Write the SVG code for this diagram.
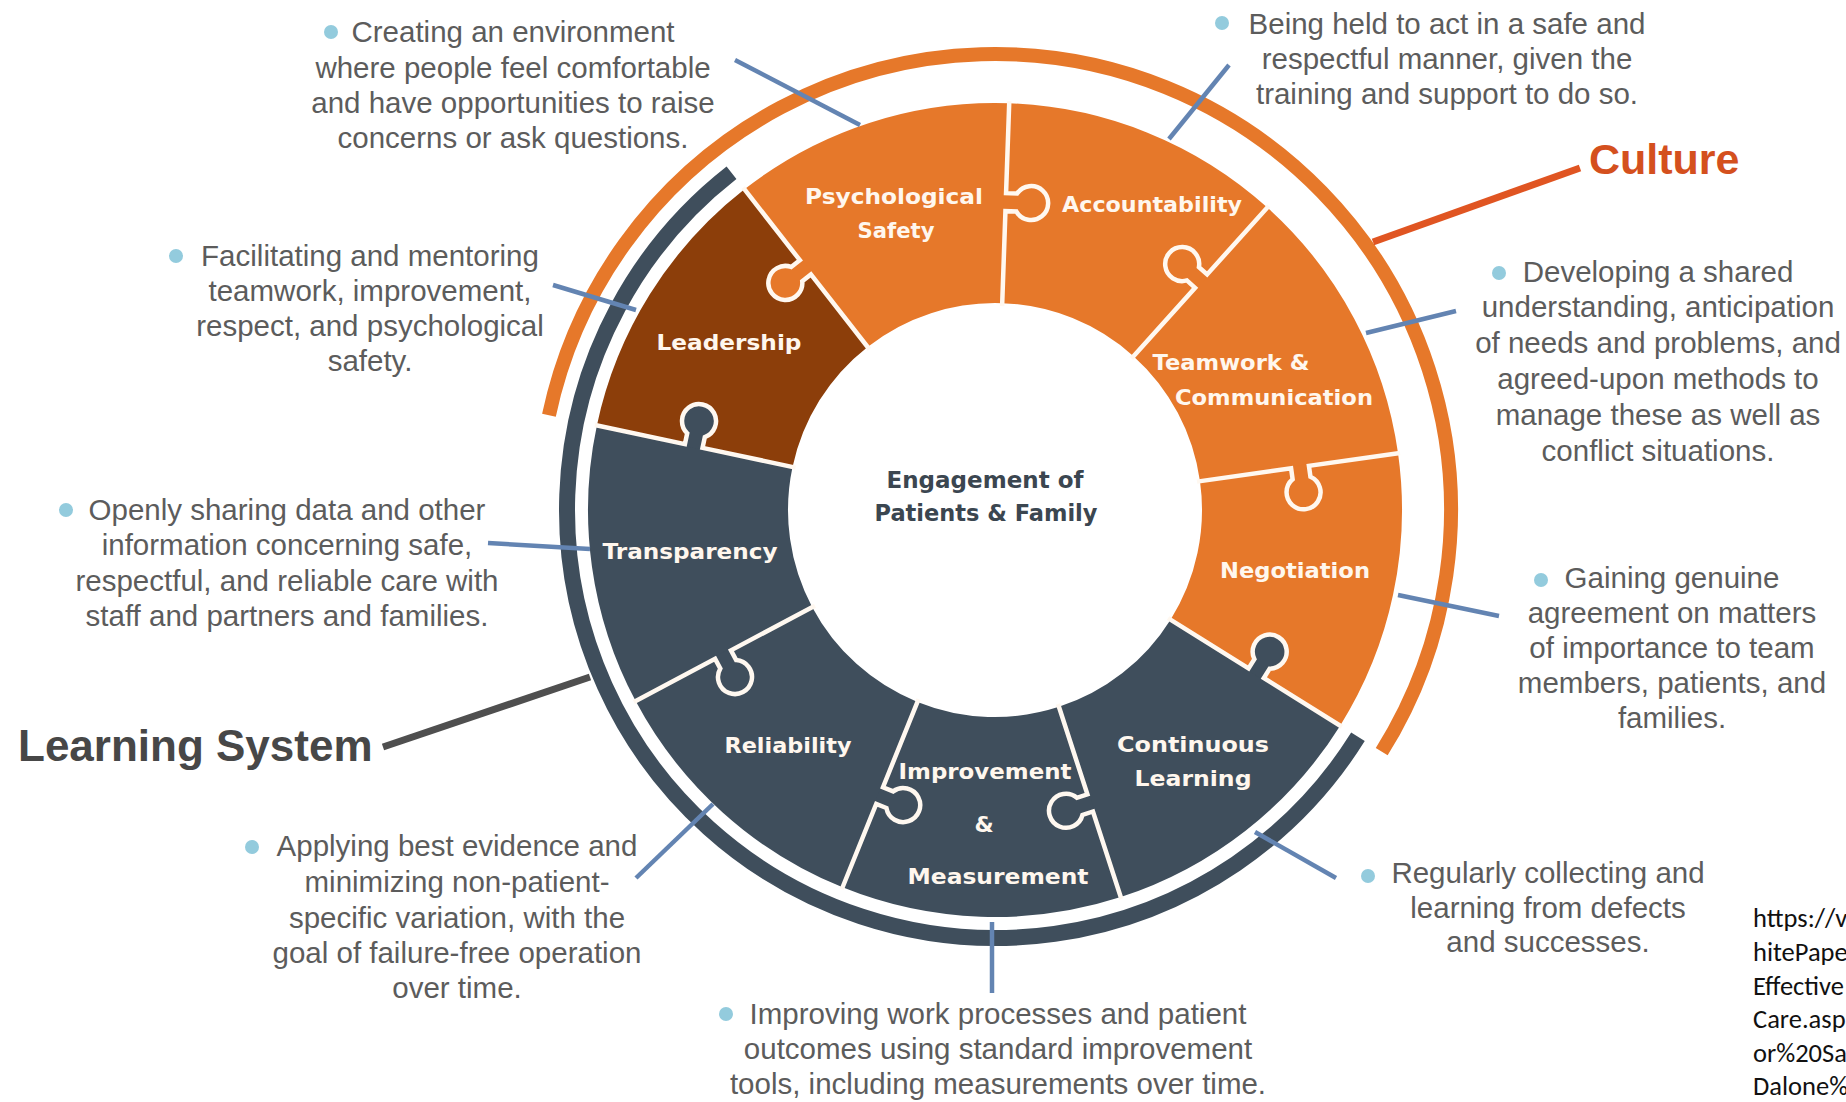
<svg xmlns="http://www.w3.org/2000/svg" xmlns:xlink="http://www.w3.org/1999/xlink" width="1846" height="1102" viewBox="0 0 1846 1102">
<style>
.d{font-family:'Liberation Sans',Arial,sans-serif;font-size:29.5px;fill:#5c5c5c;text-anchor:middle}
.b{fill:#93cbdd}
.lbl{font-family:'DejaVu Sans',sans-serif;font-weight:bold;font-size:22px;fill:#fff7ee;text-anchor:middle}
.ctr{font-family:'DejaVu Sans',sans-serif;font-weight:bold;font-size:22.5px;fill:#3b4650;text-anchor:middle}
.or{fill:#e6782a}
.dk{fill:#3f4e5c}
.br{fill:#8c3e0a}
.con{stroke:#6384b2;stroke-width:4.5;fill:none}
.url{font-family:Carlito,'Liberation Sans',sans-serif;font-size:26.5px;fill:#111}
</style>
<defs>
<path id="knob" d="M299,-2 L299,11 A17,17 0 1 0 317,11 L317,-2 Z"/>
<path id="seam" d="M204,0 L299,0 L299,11 A17,17 0 1 0 317,11 L317,0 L409,0" fill="none" stroke="#fff8f0" stroke-width="4.5"/>
</defs>
<rect width="1846" height="1102" fill="#fff"/>

<!-- outer arcs -->
<g id="culture-arc" transform="translate(995,510)">
<path d="M-446.04,-94.81 A456,456 0 1 1 386.71,241.64" fill="none" stroke="#e6782a" stroke-width="14"/>
</g>
<g id="learning-arc" transform="translate(995,510)">
<path d="M362.97,226.81 A428,428 0 1 1 -263.50,-337.27" fill="none" stroke="#3f4e5c" stroke-width="16"/>
</g>

<!-- pieces (drawn so that tabs overlay their neighbours) -->
<g id="negotiation">
<g transform="translate(995,510)"><path class="or" d="M403.04,-56.64 A407,407 0 0 1 345.16,215.68 L175.55,109.69 A207,207 0 0 0 204.99,-28.81 Z"/></g>
<text class="lbl" x="1295" y="578" textLength="150" lengthAdjust="spacingAndGlyphs">Negotiation</text>
</g>
<g id="accountability">
<g transform="translate(995,510)"><path class="or" d="M14.20,-406.75 A407,407 0 0 1 272.34,-302.46 L138.51,-153.83 A207,207 0 0 0 7.22,-206.87 Z"/></g>
<text class="lbl" x="1152" y="212" textLength="180" lengthAdjust="spacingAndGlyphs">Accountability</text>
</g>
<g id="improvement-measurement">
<g transform="translate(995,510)"><path class="dk" d="M125.77,387.08 A407,407 0 0 1 -152.47,377.36 L-77.54,191.93 A207,207 0 0 0 63.97,196.87 Z"/></g>
<text class="lbl" x="985" y="779" textLength="173" lengthAdjust="spacingAndGlyphs">Improvement</text>
<text class="lbl" x="984" y="832">&amp;</text>
<text class="lbl" x="998" y="884" textLength="181" lengthAdjust="spacingAndGlyphs">Measurement</text>
</g>
<g id="leadership">
<g transform="translate(995,510)"><path class="br" d="M-398.11,-84.62 A407,407 0 0 1 -250.57,-320.72 L-127.44,-163.12 A207,207 0 0 0 -202.48,-43.04 Z"/></g>
<text class="lbl" x="729" y="350" textLength="145" lengthAdjust="spacingAndGlyphs">Leadership</text>
</g>
<g id="reliability">
<g transform="translate(995,510)">
<path class="dk" d="M-152.47,377.36 A407,407 0 0 1 -359.36,191.07 L-182.77,97.18 A207,207 0 0 0 -77.54,191.93 Z"/>
<use href="#knob" class="dk" transform="rotate(112) scale(1,-1)"/>
</g>
<text class="lbl" x="788" y="753" textLength="127" lengthAdjust="spacingAndGlyphs">Reliability</text>
</g>
<g id="continuous-learning">
<g transform="translate(995,510)">
<path class="dk" d="M345.16,215.68 A407,407 0 0 1 125.77,387.08 L63.97,196.87 A207,207 0 0 0 175.55,109.69 Z"/>
<use href="#knob" class="dk" transform="rotate(32) scale(1,-1)"/>
<use href="#knob" class="dk" transform="rotate(72)"/>
</g>
<text class="lbl" x="1193" y="752" textLength="152" lengthAdjust="spacingAndGlyphs">Continuous</text>
<text class="lbl" x="1193" y="786" textLength="117" lengthAdjust="spacingAndGlyphs">Learning</text>
</g>
<g id="transparency">
<g transform="translate(995,510)">
<path class="dk" d="M-359.36,191.07 A407,407 0 0 1 -398.11,-84.62 L-202.48,-43.04 A207,207 0 0 0 -182.77,97.18 Z"/>
<use href="#knob" class="dk" transform="rotate(152) scale(1,-1)"/>
<use href="#knob" class="dk" transform="rotate(192)"/>
</g>
<text class="lbl" x="690" y="559" textLength="175" lengthAdjust="spacingAndGlyphs">Transparency</text>
</g>
<g id="psychological-safety">
<g transform="translate(995,510)">
<path class="or" d="M-250.57,-320.72 A407,407 0 0 1 14.20,-406.75 L7.22,-206.87 A207,207 0 0 0 -127.44,-163.12 Z"/>
<use href="#knob" class="or" transform="rotate(232) scale(1,-1)"/>
<use href="#knob" class="or" transform="rotate(272)"/>
</g>
<text class="lbl" x="894" y="204" textLength="178" lengthAdjust="spacingAndGlyphs">Psychological</text>
<text class="lbl" x="896" y="238" textLength="77" lengthAdjust="spacingAndGlyphs">Safety</text>
</g>
<g id="teamwork-communication">
<g transform="translate(995,510)">
<path class="or" d="M272.34,-302.46 A407,407 0 0 1 403.04,-56.64 L204.99,-28.81 A207,207 0 0 0 138.51,-153.83 Z"/>
<use href="#knob" class="or" transform="rotate(312) scale(1,-1)"/>
<use href="#knob" class="or" transform="rotate(352)"/>
</g>
<text class="lbl" x="1231" y="370" textLength="157" lengthAdjust="spacingAndGlyphs">Teamwork &amp;</text>
<text class="lbl" x="1274" y="405" textLength="198" lengthAdjust="spacingAndGlyphs">Communication</text>
</g>

<!-- seams between pieces -->
<g id="piece-seams" transform="translate(995,510)">
<use href="#seam" transform="rotate(32) scale(1,-1)"/>
<use href="#seam" transform="rotate(72)"/>
<use href="#seam" transform="rotate(112) scale(1,-1)"/>
<use href="#seam" transform="rotate(152) scale(1,-1)"/>
<use href="#seam" transform="rotate(192)"/>
<use href="#seam" transform="rotate(232) scale(1,-1)"/>
<use href="#seam" transform="rotate(272)"/>
<use href="#seam" transform="rotate(312) scale(1,-1)"/>
<use href="#seam" transform="rotate(352)"/>
</g>

<g id="center">
<text class="ctr" x="985" y="488" textLength="197" lengthAdjust="spacingAndGlyphs">Engagement of</text>
<text class="ctr" x="986" y="521" textLength="223" lengthAdjust="spacingAndGlyphs">Patients &amp; Family</text>
</g>

<!-- connectors -->
<g id="connectors">
<line class="con" x1="735" y1="60" x2="860" y2="125"/>
<line class="con" x1="1229" y1="65" x2="1169" y2="139"/>
<line class="con" x1="1366" y1="333" x2="1456" y2="311"/>
<line class="con" x1="553" y1="285" x2="636" y2="310"/>
<line class="con" x1="488" y1="543" x2="590" y2="549"/>
<line class="con" x1="636" y1="878" x2="713" y2="804"/>
<line class="con" x1="992" y1="922" x2="992" y2="993"/>
<line class="con" x1="1398" y1="595" x2="1499" y2="616"/>
<line class="con" x1="1255" y1="832" x2="1336" y2="878"/>
<line x1="1373" y1="242" x2="1580" y2="168" stroke="#e05522" stroke-width="7"/>
<line x1="383" y1="747" x2="590" y2="677" stroke="#4f4f4f" stroke-width="7"/>
</g>

<!-- group labels -->
<g id="culture-label">
<text x="1589" y="174" font-family="'Liberation Sans',Arial,sans-serif" font-weight="bold" font-size="43" fill="#d4501e">Culture</text>
</g>
<g id="learning-system-label">
<text x="18" y="761" font-family="'Liberation Sans',Arial,sans-serif" font-weight="bold" font-size="44" fill="#474747">Learning System</text>
</g>

<!-- descriptions -->
<g id="desc-psychological-safety">
<circle class="b" cx="331" cy="32" r="7"/>
<text class="d" x="513" y="42">Creating an environment</text>
<text class="d" x="513" y="78">where people feel comfortable</text>
<text class="d" x="513" y="113">and have opportunities to raise</text>
<text class="d" x="513" y="148">concerns or ask questions.</text>
</g>
<g id="desc-accountability">
<circle class="b" cx="1222" cy="23" r="7"/>
<text class="d" x="1447" y="34">Being held to act in a safe and</text>
<text class="d" x="1447" y="69">respectful manner, given the</text>
<text class="d" x="1447" y="104">training and support to do so.</text>
</g>
<g id="desc-teamwork">
<circle class="b" cx="1499" cy="273" r="7"/>
<text class="d" x="1658" y="282">Developing a shared</text>
<text class="d" x="1658" y="317">understanding, anticipation</text>
<text class="d" x="1658" y="353">of needs and problems, and</text>
<text class="d" x="1658" y="389">agreed-upon methods to</text>
<text class="d" x="1658" y="425">manage these as well as</text>
<text class="d" x="1658" y="461">conflict situations.</text>
</g>
<g id="desc-leadership">
<circle class="b" cx="176" cy="256" r="7"/>
<text class="d" x="370" y="266">Facilitating and mentoring</text>
<text class="d" x="370" y="301">teamwork, improvement,</text>
<text class="d" x="370" y="336">respect, and psychological</text>
<text class="d" x="370" y="371">safety.</text>
</g>
<g id="desc-transparency">
<circle class="b" cx="66" cy="510" r="7"/>
<text class="d" x="287" y="520">Openly sharing data and other</text>
<text class="d" x="287" y="555">information concerning safe,</text>
<text class="d" x="287" y="591">respectful, and reliable care with</text>
<text class="d" x="287" y="626">staff and partners and families.</text>
</g>
<g id="desc-reliability">
<circle class="b" cx="252" cy="847" r="7"/>
<text class="d" x="457" y="856">Applying best evidence and</text>
<text class="d" x="457" y="892">minimizing non-patient-</text>
<text class="d" x="457" y="928">specific variation, with the</text>
<text class="d" x="457" y="963">goal of failure-free operation</text>
<text class="d" x="457" y="998">over time.</text>
</g>
<g id="desc-improvement">
<circle class="b" cx="726" cy="1014" r="7"/>
<text class="d" x="998" y="1024">Improving work processes and patient</text>
<text class="d" x="998" y="1059">outcomes using standard improvement</text>
<text class="d" x="998" y="1094">tools, including measurements over time.</text>
</g>
<g id="desc-negotiation">
<circle class="b" cx="1541" cy="580" r="7"/>
<text class="d" x="1672" y="588">Gaining genuine</text>
<text class="d" x="1672" y="623">agreement on matters</text>
<text class="d" x="1672" y="658">of importance to team</text>
<text class="d" x="1672" y="693">members, patients, and</text>
<text class="d" x="1672" y="728">families.</text>
</g>
<g id="desc-continuous-learning">
<circle class="b" cx="1368" cy="876" r="7"/>
<text class="d" x="1548" y="883">Regularly collecting and</text>
<text class="d" x="1548" y="918">learning from defects</text>
<text class="d" x="1548" y="952">and successes.</text>
</g>

<g id="source-url">
<text class="url" x="1753" y="927">https://v</text>
<text class="url" x="1753" y="961">hitePape</text>
<text class="url" x="1753" y="995">Effective</text>
<text class="url" x="1753" y="1028">Care.asp</text>
<text class="url" x="1753" y="1062">or%20Sa</text>
<text class="url" x="1753" y="1095">Dalone%</text>
</g>
</svg>
